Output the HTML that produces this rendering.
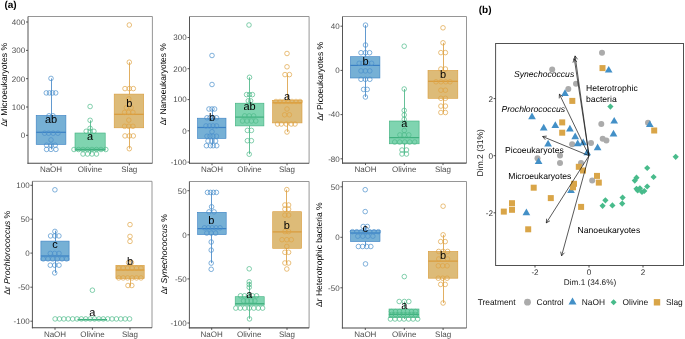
<!DOCTYPE html>
<html><head><meta charset="utf-8"><style>
html,body{margin:0;padding:0;background:#fff;width:685px;height:339px;overflow:hidden;}
svg{will-change:transform;}
svg text{font-family:"Liberation Sans", sans-serif;text-rendering:geometricPrecision;}
</style></head><body>
<svg width="685" height="339" viewBox="0 0 685 339" style="position:absolute;left:0;top:0;font-family:'Liberation Sans', sans-serif">
<rect width="685" height="339" fill="#fff"/>
<text x="4.4" y="7.8" font-size="10" text-anchor="start" fill="#000" font-weight="bold" font-style="normal" >(a)</text>
<text x="478.7" y="12.5" font-size="10" text-anchor="start" fill="#000" font-weight="bold" font-style="normal" >(b)</text>
<polyline points="28,16.5 152.4,16.5 152.4,163.3" fill="none" stroke="#8a8a8a" stroke-width="0.9"/>
<line x1="28" y1="16.5" x2="28" y2="163.8" stroke="#555" stroke-width="1.0"/>
<line x1="27.5" y1="163.3" x2="152.4" y2="163.3" stroke="#4a4a4a" stroke-width="1.1"/>
<line x1="26" y1="22" x2="28" y2="22" stroke="#444" stroke-width="0.9"/>
<text x="25.2" y="24.85" font-size="8" text-anchor="end" fill="#4d4d4d" font-weight="normal" font-style="normal" >400</text>
<line x1="26" y1="50.4" x2="28" y2="50.4" stroke="#444" stroke-width="0.9"/>
<text x="25.2" y="53.25" font-size="8" text-anchor="end" fill="#4d4d4d" font-weight="normal" font-style="normal" >300</text>
<line x1="26" y1="78.7" x2="28" y2="78.7" stroke="#444" stroke-width="0.9"/>
<text x="25.2" y="81.55" font-size="8" text-anchor="end" fill="#4d4d4d" font-weight="normal" font-style="normal" >200</text>
<line x1="26" y1="107" x2="28" y2="107" stroke="#444" stroke-width="0.9"/>
<text x="25.2" y="109.85" font-size="8" text-anchor="end" fill="#4d4d4d" font-weight="normal" font-style="normal" >100</text>
<line x1="26" y1="135.3" x2="28" y2="135.3" stroke="#444" stroke-width="0.9"/>
<text x="25.2" y="138.15" font-size="8" text-anchor="end" fill="#4d4d4d" font-weight="normal" font-style="normal" >0</text>
<line x1="51" y1="163.3" x2="51" y2="165.3" stroke="#444" stroke-width="0.9"/>
<text x="51" y="172.3" font-size="8" text-anchor="middle" fill="#4d4d4d" font-weight="normal" font-style="normal" >NaOH</text>
<line x1="90" y1="163.3" x2="90" y2="165.3" stroke="#444" stroke-width="0.9"/>
<text x="90" y="172.3" font-size="8" text-anchor="middle" fill="#4d4d4d" font-weight="normal" font-style="normal" >Olivine</text>
<line x1="129.3" y1="163.3" x2="129.3" y2="165.3" stroke="#444" stroke-width="0.9"/>
<text x="129.3" y="172.3" font-size="8" text-anchor="middle" fill="#4d4d4d" font-weight="normal" font-style="normal" >Slag</text>
<line x1="51.5" y1="78.4" x2="51.5" y2="149.4" stroke="#3a80c4" stroke-width="0.8"/>
<rect x="36.2" y="115.4" width="29.700000000000003" height="29.099999999999994" fill="#76b0d5" stroke="#3a80c4" stroke-width="0.6"/>
<line x1="36.2" y1="132.3" x2="65.9" y2="132.3" stroke="#3a80c4" stroke-width="1.2"/>
<circle cx="51" cy="78.4" r="2.3" fill="none" stroke="#4a8fcb" stroke-width="0.7"/>
<circle cx="46.3" cy="92.9" r="2.3" fill="none" stroke="#4a8fcb" stroke-width="0.7"/>
<circle cx="49.5" cy="92.9" r="2.3" fill="none" stroke="#4a8fcb" stroke-width="0.7"/>
<circle cx="52.5" cy="92.9" r="2.3" fill="none" stroke="#4a8fcb" stroke-width="0.7"/>
<circle cx="55.7" cy="92.9" r="2.3" fill="none" stroke="#4a8fcb" stroke-width="0.7"/>
<circle cx="49" cy="115.8" r="2.3" fill="none" stroke="#4a8fcb" stroke-width="0.7"/>
<circle cx="53" cy="115.8" r="2.3" fill="none" stroke="#4a8fcb" stroke-width="0.7"/>
<circle cx="44.6" cy="133.2" r="2.3" fill="none" stroke="#4a8fcb" stroke-width="0.7"/>
<circle cx="48.6" cy="133.2" r="2.3" fill="none" stroke="#4a8fcb" stroke-width="0.7"/>
<circle cx="53.2" cy="133.2" r="2.3" fill="none" stroke="#4a8fcb" stroke-width="0.7"/>
<circle cx="57.9" cy="133.2" r="2.3" fill="none" stroke="#4a8fcb" stroke-width="0.7"/>
<circle cx="51" cy="139.9" r="2.3" fill="none" stroke="#4a8fcb" stroke-width="0.7"/>
<circle cx="46.6" cy="145.2" r="2.3" fill="none" stroke="#4a8fcb" stroke-width="0.7"/>
<circle cx="51" cy="145.2" r="2.3" fill="none" stroke="#4a8fcb" stroke-width="0.7"/>
<circle cx="55.2" cy="145.2" r="2.3" fill="none" stroke="#4a8fcb" stroke-width="0.7"/>
<circle cx="46.6" cy="149.4" r="2.3" fill="none" stroke="#4a8fcb" stroke-width="0.7"/>
<circle cx="51" cy="149.4" r="2.3" fill="none" stroke="#4a8fcb" stroke-width="0.7"/>
<circle cx="55.9" cy="149.4" r="2.3" fill="none" stroke="#4a8fcb" stroke-width="0.7"/>
<text x="51" y="123.3" font-size="11" text-anchor="middle" fill="#000" font-weight="normal" font-style="normal" >ab</text>
<line x1="90.5" y1="120.3" x2="90.5" y2="154" stroke="#3fb07e" stroke-width="0.8"/>
<rect x="75" y="133" width="30.200000000000003" height="17.5" fill="#7fd4b0" stroke="#3fb07e" stroke-width="0.6"/>
<line x1="75" y1="149.4" x2="105.2" y2="149.4" stroke="#3fb07e" stroke-width="1.2"/>
<circle cx="90.1" cy="106.5" r="2.3" fill="none" stroke="#4dba8a" stroke-width="0.7"/>
<circle cx="90.1" cy="120.3" r="2.3" fill="none" stroke="#4dba8a" stroke-width="0.7"/>
<circle cx="90.1" cy="128.3" r="2.3" fill="none" stroke="#4dba8a" stroke-width="0.7"/>
<circle cx="86.2" cy="131.3" r="2.3" fill="none" stroke="#4dba8a" stroke-width="0.7"/>
<circle cx="90.1" cy="131.3" r="2.3" fill="none" stroke="#4dba8a" stroke-width="0.7"/>
<circle cx="93.9" cy="131.3" r="2.3" fill="none" stroke="#4dba8a" stroke-width="0.7"/>
<circle cx="74" cy="149.5" r="2.3" fill="none" stroke="#4dba8a" stroke-width="0.7"/>
<circle cx="78.5" cy="149.5" r="2.3" fill="none" stroke="#4dba8a" stroke-width="0.7"/>
<circle cx="83" cy="149.5" r="2.3" fill="none" stroke="#4dba8a" stroke-width="0.7"/>
<circle cx="87.5" cy="149.5" r="2.3" fill="none" stroke="#4dba8a" stroke-width="0.7"/>
<circle cx="92" cy="149.5" r="2.3" fill="none" stroke="#4dba8a" stroke-width="0.7"/>
<circle cx="96.5" cy="149.5" r="2.3" fill="none" stroke="#4dba8a" stroke-width="0.7"/>
<circle cx="101" cy="149.5" r="2.3" fill="none" stroke="#4dba8a" stroke-width="0.7"/>
<circle cx="105.8" cy="149.5" r="2.3" fill="none" stroke="#4dba8a" stroke-width="0.7"/>
<circle cx="83" cy="154" r="2.3" fill="none" stroke="#4dba8a" stroke-width="0.7"/>
<circle cx="87.5" cy="154" r="2.3" fill="none" stroke="#4dba8a" stroke-width="0.7"/>
<circle cx="92" cy="154" r="2.3" fill="none" stroke="#4dba8a" stroke-width="0.7"/>
<circle cx="96.5" cy="154" r="2.3" fill="none" stroke="#4dba8a" stroke-width="0.7"/>
<text x="90" y="139.7" font-size="11" text-anchor="middle" fill="#000" font-weight="normal" font-style="normal" >a</text>
<line x1="129.5" y1="62.2" x2="129.5" y2="148.7" stroke="#d99b3a" stroke-width="0.8"/>
<rect x="114.2" y="94.1" width="29.499999999999986" height="33.7" fill="#ddbb78" stroke="#d99b3a" stroke-width="0.6"/>
<line x1="114.2" y1="114.3" x2="143.7" y2="114.3" stroke="#d99b3a" stroke-width="1.2"/>
<circle cx="129.3" cy="25" r="2.3" fill="none" stroke="#e0a444" stroke-width="0.7"/>
<circle cx="129.3" cy="62.2" r="2.3" fill="none" stroke="#e0a444" stroke-width="0.7"/>
<circle cx="125" cy="88.6" r="2.3" fill="none" stroke="#e0a444" stroke-width="0.7"/>
<circle cx="129.3" cy="88.6" r="2.3" fill="none" stroke="#e0a444" stroke-width="0.7"/>
<circle cx="133.3" cy="88.6" r="2.3" fill="none" stroke="#e0a444" stroke-width="0.7"/>
<circle cx="128.8" cy="98.9" r="2.3" fill="none" stroke="#e0a444" stroke-width="0.7"/>
<circle cx="126.4" cy="107.7" r="2.3" fill="none" stroke="#e0a444" stroke-width="0.7"/>
<circle cx="131.1" cy="107.7" r="2.3" fill="none" stroke="#e0a444" stroke-width="0.7"/>
<circle cx="124.6" cy="112.4" r="2.3" fill="none" stroke="#e0a444" stroke-width="0.7"/>
<circle cx="128.5" cy="112.4" r="2.3" fill="none" stroke="#e0a444" stroke-width="0.7"/>
<circle cx="132.9" cy="112.4" r="2.3" fill="none" stroke="#e0a444" stroke-width="0.7"/>
<circle cx="128.8" cy="120.1" r="2.3" fill="none" stroke="#e0a444" stroke-width="0.7"/>
<circle cx="124.6" cy="126.3" r="2.3" fill="none" stroke="#e0a444" stroke-width="0.7"/>
<circle cx="128.8" cy="126.3" r="2.3" fill="none" stroke="#e0a444" stroke-width="0.7"/>
<circle cx="132.9" cy="126.3" r="2.3" fill="none" stroke="#e0a444" stroke-width="0.7"/>
<circle cx="125" cy="135.9" r="2.3" fill="none" stroke="#e0a444" stroke-width="0.7"/>
<circle cx="129.3" cy="135.9" r="2.3" fill="none" stroke="#e0a444" stroke-width="0.7"/>
<circle cx="133.3" cy="135.9" r="2.3" fill="none" stroke="#e0a444" stroke-width="0.7"/>
<circle cx="129.3" cy="148.7" r="2.3" fill="none" stroke="#e0a444" stroke-width="0.7"/>
<text x="129.3" y="107.0" font-size="11" text-anchor="middle" fill="#000" font-weight="normal" font-style="normal" >b</text>
<text transform="translate(7.2,126.6) rotate(-90)" x="0" y="0" font-size="8.5" fill="#000" textLength="83.6" lengthAdjust="spacingAndGlyphs">Δr Microeukaryotes %</text>
<polyline points="189.5,16.5 309.1,16.5 309.1,163.3" fill="none" stroke="#8a8a8a" stroke-width="0.9"/>
<line x1="189.5" y1="16.5" x2="189.5" y2="163.8" stroke="#555" stroke-width="1.0"/>
<line x1="189.0" y1="163.3" x2="309.1" y2="163.3" stroke="#4a4a4a" stroke-width="1.1"/>
<line x1="187.5" y1="37.5" x2="189.5" y2="37.5" stroke="#444" stroke-width="0.9"/>
<text x="186.7" y="40.35" font-size="8" text-anchor="end" fill="#4d4d4d" font-weight="normal" font-style="normal" >300</text>
<line x1="187.5" y1="68.7" x2="189.5" y2="68.7" stroke="#444" stroke-width="0.9"/>
<text x="186.7" y="71.55" font-size="8" text-anchor="end" fill="#4d4d4d" font-weight="normal" font-style="normal" >200</text>
<line x1="187.5" y1="99.6" x2="189.5" y2="99.6" stroke="#444" stroke-width="0.9"/>
<text x="186.7" y="102.44999999999999" font-size="8" text-anchor="end" fill="#4d4d4d" font-weight="normal" font-style="normal" >100</text>
<line x1="187.5" y1="130.8" x2="189.5" y2="130.8" stroke="#444" stroke-width="0.9"/>
<text x="186.7" y="133.65" font-size="8" text-anchor="end" fill="#4d4d4d" font-weight="normal" font-style="normal" >0</text>
<line x1="187.5" y1="162.1" x2="189.5" y2="162.1" stroke="#444" stroke-width="0.9"/>
<text x="186.7" y="164.95" font-size="8" text-anchor="end" fill="#4d4d4d" font-weight="normal" font-style="normal" >-100</text>
<line x1="212" y1="163.3" x2="212" y2="165.3" stroke="#444" stroke-width="0.9"/>
<text x="212" y="172.3" font-size="8" text-anchor="middle" fill="#4d4d4d" font-weight="normal" font-style="normal" >NaOH</text>
<line x1="249.5" y1="163.3" x2="249.5" y2="165.3" stroke="#444" stroke-width="0.9"/>
<text x="249.5" y="172.3" font-size="8" text-anchor="middle" fill="#4d4d4d" font-weight="normal" font-style="normal" >Olivine</text>
<line x1="287" y1="163.3" x2="287" y2="165.3" stroke="#444" stroke-width="0.9"/>
<text x="287" y="172.3" font-size="8" text-anchor="middle" fill="#4d4d4d" font-weight="normal" font-style="normal" >Slag</text>
<line x1="212.5" y1="109" x2="212.5" y2="145.7" stroke="#3a80c4" stroke-width="0.8"/>
<rect x="197.5" y="118.2" width="28.5" height="20.299999999999997" fill="#76b0d5" stroke="#3a80c4" stroke-width="0.6"/>
<line x1="197.5" y1="127.5" x2="226" y2="127.5" stroke="#3a80c4" stroke-width="1.2"/>
<circle cx="212" cy="55.5" r="2.3" fill="none" stroke="#4a8fcb" stroke-width="0.7"/>
<circle cx="212" cy="84.5" r="2.3" fill="none" stroke="#4a8fcb" stroke-width="0.7"/>
<circle cx="209" cy="109" r="2.3" fill="none" stroke="#4a8fcb" stroke-width="0.7"/>
<circle cx="212" cy="109" r="2.3" fill="none" stroke="#4a8fcb" stroke-width="0.7"/>
<circle cx="214.6" cy="109" r="2.3" fill="none" stroke="#4a8fcb" stroke-width="0.7"/>
<circle cx="207" cy="117.8" r="2.3" fill="none" stroke="#4a8fcb" stroke-width="0.7"/>
<circle cx="210" cy="117.8" r="2.3" fill="none" stroke="#4a8fcb" stroke-width="0.7"/>
<circle cx="213" cy="117.8" r="2.3" fill="none" stroke="#4a8fcb" stroke-width="0.7"/>
<circle cx="216.5" cy="117.8" r="2.3" fill="none" stroke="#4a8fcb" stroke-width="0.7"/>
<circle cx="206" cy="125.9" r="2.3" fill="none" stroke="#4a8fcb" stroke-width="0.7"/>
<circle cx="209.5" cy="125.9" r="2.3" fill="none" stroke="#4a8fcb" stroke-width="0.7"/>
<circle cx="213" cy="125.9" r="2.3" fill="none" stroke="#4a8fcb" stroke-width="0.7"/>
<circle cx="216.5" cy="125.9" r="2.3" fill="none" stroke="#4a8fcb" stroke-width="0.7"/>
<circle cx="212" cy="131.7" r="2.3" fill="none" stroke="#4a8fcb" stroke-width="0.7"/>
<circle cx="207" cy="136.2" r="2.3" fill="none" stroke="#4a8fcb" stroke-width="0.7"/>
<circle cx="210" cy="136.2" r="2.3" fill="none" stroke="#4a8fcb" stroke-width="0.7"/>
<circle cx="213" cy="136.2" r="2.3" fill="none" stroke="#4a8fcb" stroke-width="0.7"/>
<circle cx="216.5" cy="136.2" r="2.3" fill="none" stroke="#4a8fcb" stroke-width="0.7"/>
<circle cx="208" cy="141" r="2.3" fill="none" stroke="#4a8fcb" stroke-width="0.7"/>
<circle cx="212" cy="141" r="2.3" fill="none" stroke="#4a8fcb" stroke-width="0.7"/>
<circle cx="215.6" cy="141" r="2.3" fill="none" stroke="#4a8fcb" stroke-width="0.7"/>
<circle cx="206.4" cy="145.7" r="2.3" fill="none" stroke="#4a8fcb" stroke-width="0.7"/>
<circle cx="210.5" cy="145.7" r="2.3" fill="none" stroke="#4a8fcb" stroke-width="0.7"/>
<circle cx="213.2" cy="145.7" r="2.3" fill="none" stroke="#4a8fcb" stroke-width="0.7"/>
<circle cx="216.7" cy="145.7" r="2.3" fill="none" stroke="#4a8fcb" stroke-width="0.7"/>
<text x="212" y="121.3" font-size="11" text-anchor="middle" fill="#000" font-weight="normal" font-style="normal" >b</text>
<line x1="249.5" y1="77.3" x2="249.5" y2="154.2" stroke="#3fb07e" stroke-width="0.8"/>
<rect x="235.3" y="103.2" width="28.599999999999966" height="22.700000000000003" fill="#7fd4b0" stroke="#3fb07e" stroke-width="0.6"/>
<line x1="235.3" y1="117.1" x2="263.9" y2="117.1" stroke="#3fb07e" stroke-width="1.2"/>
<circle cx="249" cy="25" r="2.3" fill="none" stroke="#4dba8a" stroke-width="0.7"/>
<circle cx="249.5" cy="77.3" r="2.3" fill="none" stroke="#4dba8a" stroke-width="0.7"/>
<circle cx="246.6" cy="94.6" r="2.3" fill="none" stroke="#4dba8a" stroke-width="0.7"/>
<circle cx="249.5" cy="94.6" r="2.3" fill="none" stroke="#4dba8a" stroke-width="0.7"/>
<circle cx="252.4" cy="94.6" r="2.3" fill="none" stroke="#4dba8a" stroke-width="0.7"/>
<circle cx="248.3" cy="100.8" r="2.3" fill="none" stroke="#4dba8a" stroke-width="0.7"/>
<circle cx="250.6" cy="100.8" r="2.3" fill="none" stroke="#4dba8a" stroke-width="0.7"/>
<circle cx="244.7" cy="115.9" r="2.3" fill="none" stroke="#4dba8a" stroke-width="0.7"/>
<circle cx="249.2" cy="115.9" r="2.3" fill="none" stroke="#4dba8a" stroke-width="0.7"/>
<circle cx="253.6" cy="115.9" r="2.3" fill="none" stroke="#4dba8a" stroke-width="0.7"/>
<circle cx="242.5" cy="121" r="2.3" fill="none" stroke="#4dba8a" stroke-width="0.7"/>
<circle cx="247" cy="121" r="2.3" fill="none" stroke="#4dba8a" stroke-width="0.7"/>
<circle cx="251.4" cy="121" r="2.3" fill="none" stroke="#4dba8a" stroke-width="0.7"/>
<circle cx="255.8" cy="121" r="2.3" fill="none" stroke="#4dba8a" stroke-width="0.7"/>
<circle cx="247.4" cy="130.4" r="2.3" fill="none" stroke="#4dba8a" stroke-width="0.7"/>
<circle cx="251.4" cy="130.4" r="2.3" fill="none" stroke="#4dba8a" stroke-width="0.7"/>
<circle cx="247.4" cy="140.7" r="2.3" fill="none" stroke="#4dba8a" stroke-width="0.7"/>
<circle cx="251.4" cy="140.7" r="2.3" fill="none" stroke="#4dba8a" stroke-width="0.7"/>
<circle cx="249.2" cy="154.2" r="2.3" fill="none" stroke="#4dba8a" stroke-width="0.7"/>
<text x="249.5" y="109.8" font-size="11" text-anchor="middle" fill="#000" font-weight="normal" font-style="normal" >ab</text>
<line x1="287.5" y1="74.6" x2="287.5" y2="132" stroke="#d99b3a" stroke-width="0.8"/>
<rect x="272.6" y="100.3" width="29.399999999999977" height="22.60000000000001" fill="#ddbb78" stroke="#d99b3a" stroke-width="0.6"/>
<line x1="272.6" y1="102.8" x2="302" y2="102.8" stroke="#d99b3a" stroke-width="1.2"/>
<circle cx="287" cy="53.5" r="2.3" fill="none" stroke="#e0a444" stroke-width="0.7"/>
<circle cx="287" cy="66.8" r="2.3" fill="none" stroke="#e0a444" stroke-width="0.7"/>
<circle cx="285" cy="74.6" r="2.3" fill="none" stroke="#e0a444" stroke-width="0.7"/>
<circle cx="289.4" cy="74.6" r="2.3" fill="none" stroke="#e0a444" stroke-width="0.7"/>
<circle cx="276" cy="101.5" r="2.3" fill="none" stroke="#e0a444" stroke-width="0.7"/>
<circle cx="280" cy="101.5" r="2.3" fill="none" stroke="#e0a444" stroke-width="0.7"/>
<circle cx="284" cy="101.5" r="2.3" fill="none" stroke="#e0a444" stroke-width="0.7"/>
<circle cx="288" cy="101.5" r="2.3" fill="none" stroke="#e0a444" stroke-width="0.7"/>
<circle cx="292" cy="101.5" r="2.3" fill="none" stroke="#e0a444" stroke-width="0.7"/>
<circle cx="296" cy="101.5" r="2.3" fill="none" stroke="#e0a444" stroke-width="0.7"/>
<circle cx="300" cy="101.5" r="2.3" fill="none" stroke="#e0a444" stroke-width="0.7"/>
<circle cx="287" cy="109" r="2.3" fill="none" stroke="#e0a444" stroke-width="0.7"/>
<circle cx="284.6" cy="114.8" r="2.3" fill="none" stroke="#e0a444" stroke-width="0.7"/>
<circle cx="289.4" cy="114.8" r="2.3" fill="none" stroke="#e0a444" stroke-width="0.7"/>
<circle cx="277.5" cy="124" r="2.3" fill="none" stroke="#e0a444" stroke-width="0.7"/>
<circle cx="281.3" cy="124" r="2.3" fill="none" stroke="#e0a444" stroke-width="0.7"/>
<circle cx="286.3" cy="124" r="2.3" fill="none" stroke="#e0a444" stroke-width="0.7"/>
<circle cx="291.3" cy="124" r="2.3" fill="none" stroke="#e0a444" stroke-width="0.7"/>
<circle cx="295" cy="124" r="2.3" fill="none" stroke="#e0a444" stroke-width="0.7"/>
<circle cx="287" cy="132" r="2.3" fill="none" stroke="#e0a444" stroke-width="0.7"/>
<text x="287" y="99.6" font-size="11" text-anchor="middle" fill="#000" font-weight="normal" font-style="normal" >a</text>
<text transform="translate(166,125.3) rotate(-90)" x="0" y="0" font-size="8.5" fill="#000" textLength="82.19999999999999" lengthAdjust="spacingAndGlyphs">Δr Nanoeukaryotes %</text>
<polyline points="342.5,16.5 466.5,16.5 466.5,163.1" fill="none" stroke="#8a8a8a" stroke-width="0.9"/>
<line x1="342.5" y1="16.5" x2="342.5" y2="163.6" stroke="#555" stroke-width="1.0"/>
<line x1="342.0" y1="163.1" x2="466.5" y2="163.1" stroke="#4a4a4a" stroke-width="1.1"/>
<line x1="340.5" y1="26.2" x2="342.5" y2="26.2" stroke="#444" stroke-width="0.9"/>
<text x="339.7" y="29.05" font-size="8" text-anchor="end" fill="#4d4d4d" font-weight="normal" font-style="normal" >40</text>
<line x1="340.5" y1="70.4" x2="342.5" y2="70.4" stroke="#444" stroke-width="0.9"/>
<text x="339.7" y="73.25" font-size="8" text-anchor="end" fill="#4d4d4d" font-weight="normal" font-style="normal" >0</text>
<line x1="340.5" y1="114.6" x2="342.5" y2="114.6" stroke="#444" stroke-width="0.9"/>
<text x="339.7" y="117.44999999999999" font-size="8" text-anchor="end" fill="#4d4d4d" font-weight="normal" font-style="normal" >-40</text>
<line x1="340.5" y1="158.8" x2="342.5" y2="158.8" stroke="#444" stroke-width="0.9"/>
<text x="339.7" y="161.65" font-size="8" text-anchor="end" fill="#4d4d4d" font-weight="normal" font-style="normal" >-80</text>
<line x1="365.5" y1="163.1" x2="365.5" y2="165.1" stroke="#444" stroke-width="0.9"/>
<text x="365.5" y="172.1" font-size="8" text-anchor="middle" fill="#4d4d4d" font-weight="normal" font-style="normal" >NaOH</text>
<line x1="404.3" y1="163.1" x2="404.3" y2="165.1" stroke="#444" stroke-width="0.9"/>
<text x="404.3" y="172.1" font-size="8" text-anchor="middle" fill="#4d4d4d" font-weight="normal" font-style="normal" >Olivine</text>
<line x1="443" y1="163.1" x2="443" y2="165.1" stroke="#444" stroke-width="0.9"/>
<text x="443" y="172.1" font-size="8" text-anchor="middle" fill="#4d4d4d" font-weight="normal" font-style="normal" >Slag</text>
<line x1="365.5" y1="25.1" x2="365.5" y2="97" stroke="#3a80c4" stroke-width="0.8"/>
<rect x="350.4" y="56.7" width="29.5" height="21.299999999999997" fill="#76b0d5" stroke="#3a80c4" stroke-width="0.6"/>
<line x1="350.4" y1="65.4" x2="379.9" y2="65.4" stroke="#3a80c4" stroke-width="1.2"/>
<circle cx="365.5" cy="25.1" r="2.3" fill="none" stroke="#4a8fcb" stroke-width="0.7"/>
<circle cx="365.5" cy="45" r="2.3" fill="none" stroke="#4a8fcb" stroke-width="0.7"/>
<circle cx="361" cy="52.7" r="2.3" fill="none" stroke="#4a8fcb" stroke-width="0.7"/>
<circle cx="365.5" cy="52.7" r="2.3" fill="none" stroke="#4a8fcb" stroke-width="0.7"/>
<circle cx="369.6" cy="52.7" r="2.3" fill="none" stroke="#4a8fcb" stroke-width="0.7"/>
<circle cx="359.2" cy="63.3" r="2.3" fill="none" stroke="#4a8fcb" stroke-width="0.7"/>
<circle cx="363" cy="63.3" r="2.3" fill="none" stroke="#4a8fcb" stroke-width="0.7"/>
<circle cx="367.5" cy="63.3" r="2.3" fill="none" stroke="#4a8fcb" stroke-width="0.7"/>
<circle cx="371.6" cy="63.3" r="2.3" fill="none" stroke="#4a8fcb" stroke-width="0.7"/>
<circle cx="361" cy="70.9" r="2.3" fill="none" stroke="#4a8fcb" stroke-width="0.7"/>
<circle cx="365.4" cy="70.9" r="2.3" fill="none" stroke="#4a8fcb" stroke-width="0.7"/>
<circle cx="369.8" cy="70.9" r="2.3" fill="none" stroke="#4a8fcb" stroke-width="0.7"/>
<circle cx="361" cy="79.3" r="2.3" fill="none" stroke="#4a8fcb" stroke-width="0.7"/>
<circle cx="365.4" cy="79.3" r="2.3" fill="none" stroke="#4a8fcb" stroke-width="0.7"/>
<circle cx="369.8" cy="79.3" r="2.3" fill="none" stroke="#4a8fcb" stroke-width="0.7"/>
<circle cx="363.6" cy="89.4" r="2.3" fill="none" stroke="#4a8fcb" stroke-width="0.7"/>
<circle cx="367.2" cy="89.4" r="2.3" fill="none" stroke="#4a8fcb" stroke-width="0.7"/>
<circle cx="365.4" cy="97" r="2.3" fill="none" stroke="#4a8fcb" stroke-width="0.7"/>
<text x="365.5" y="64.6" font-size="11" text-anchor="middle" fill="#000" font-weight="normal" font-style="normal" >b</text>
<line x1="404.5" y1="89" x2="404.5" y2="154" stroke="#3fb07e" stroke-width="0.8"/>
<rect x="389.3" y="121" width="29.80000000000001" height="22.80000000000001" fill="#7fd4b0" stroke="#3fb07e" stroke-width="0.6"/>
<line x1="389.3" y1="137.6" x2="419.1" y2="137.6" stroke="#3fb07e" stroke-width="1.2"/>
<circle cx="404.2" cy="46.2" r="2.3" fill="none" stroke="#4dba8a" stroke-width="0.7"/>
<circle cx="404.2" cy="89" r="2.3" fill="none" stroke="#4dba8a" stroke-width="0.7"/>
<circle cx="404.2" cy="110.4" r="2.3" fill="none" stroke="#4dba8a" stroke-width="0.7"/>
<circle cx="404.2" cy="114.9" r="2.3" fill="none" stroke="#4dba8a" stroke-width="0.7"/>
<circle cx="404.2" cy="119.3" r="2.3" fill="none" stroke="#4dba8a" stroke-width="0.7"/>
<circle cx="404.3" cy="130.5" r="2.3" fill="none" stroke="#4dba8a" stroke-width="0.7"/>
<circle cx="399.9" cy="134.9" r="2.3" fill="none" stroke="#4dba8a" stroke-width="0.7"/>
<circle cx="404.3" cy="134.9" r="2.3" fill="none" stroke="#4dba8a" stroke-width="0.7"/>
<circle cx="408.8" cy="134.9" r="2.3" fill="none" stroke="#4dba8a" stroke-width="0.7"/>
<circle cx="394.7" cy="142" r="2.3" fill="none" stroke="#4dba8a" stroke-width="0.7"/>
<circle cx="399.7" cy="142" r="2.3" fill="none" stroke="#4dba8a" stroke-width="0.7"/>
<circle cx="404.7" cy="142" r="2.3" fill="none" stroke="#4dba8a" stroke-width="0.7"/>
<circle cx="409.7" cy="142" r="2.3" fill="none" stroke="#4dba8a" stroke-width="0.7"/>
<circle cx="414.7" cy="142" r="2.3" fill="none" stroke="#4dba8a" stroke-width="0.7"/>
<circle cx="402" cy="150" r="2.3" fill="none" stroke="#4dba8a" stroke-width="0.7"/>
<circle cx="406.5" cy="150" r="2.3" fill="none" stroke="#4dba8a" stroke-width="0.7"/>
<circle cx="402" cy="154" r="2.3" fill="none" stroke="#4dba8a" stroke-width="0.7"/>
<circle cx="406.5" cy="154" r="2.3" fill="none" stroke="#4dba8a" stroke-width="0.7"/>
<text x="404.3" y="126.8" font-size="11" text-anchor="middle" fill="#000" font-weight="normal" font-style="normal" >a</text>
<line x1="443.5" y1="42.8" x2="443.5" y2="112.5" stroke="#d99b3a" stroke-width="0.8"/>
<rect x="428" y="70.4" width="29.80000000000001" height="27.89999999999999" fill="#ddbb78" stroke="#d99b3a" stroke-width="0.6"/>
<line x1="428" y1="81.3" x2="457.8" y2="81.3" stroke="#d99b3a" stroke-width="1.2"/>
<circle cx="443" cy="27.8" r="2.3" fill="none" stroke="#e0a444" stroke-width="0.7"/>
<circle cx="443" cy="42.8" r="2.3" fill="none" stroke="#e0a444" stroke-width="0.7"/>
<circle cx="440.9" cy="52.6" r="2.3" fill="none" stroke="#e0a444" stroke-width="0.7"/>
<circle cx="445.4" cy="52.6" r="2.3" fill="none" stroke="#e0a444" stroke-width="0.7"/>
<circle cx="440.9" cy="69" r="2.3" fill="none" stroke="#e0a444" stroke-width="0.7"/>
<circle cx="445.4" cy="69" r="2.3" fill="none" stroke="#e0a444" stroke-width="0.7"/>
<circle cx="436" cy="81.8" r="2.3" fill="none" stroke="#e0a444" stroke-width="0.7"/>
<circle cx="441" cy="81.8" r="2.3" fill="none" stroke="#e0a444" stroke-width="0.7"/>
<circle cx="445.7" cy="81.8" r="2.3" fill="none" stroke="#e0a444" stroke-width="0.7"/>
<circle cx="450" cy="81.8" r="2.3" fill="none" stroke="#e0a444" stroke-width="0.7"/>
<circle cx="440.9" cy="90.2" r="2.3" fill="none" stroke="#e0a444" stroke-width="0.7"/>
<circle cx="445.4" cy="90.2" r="2.3" fill="none" stroke="#e0a444" stroke-width="0.7"/>
<circle cx="440.9" cy="98.3" r="2.3" fill="none" stroke="#e0a444" stroke-width="0.7"/>
<circle cx="445.4" cy="98.3" r="2.3" fill="none" stroke="#e0a444" stroke-width="0.7"/>
<circle cx="440.9" cy="106.1" r="2.3" fill="none" stroke="#e0a444" stroke-width="0.7"/>
<circle cx="445.4" cy="106.1" r="2.3" fill="none" stroke="#e0a444" stroke-width="0.7"/>
<circle cx="440.9" cy="112.5" r="2.3" fill="none" stroke="#e0a444" stroke-width="0.7"/>
<circle cx="445.4" cy="112.5" r="2.3" fill="none" stroke="#e0a444" stroke-width="0.7"/>
<text x="443" y="78.3" font-size="11" text-anchor="middle" fill="#000" font-weight="normal" font-style="normal" >b</text>
<text transform="translate(323,120.8) rotate(-90)" x="0" y="0" font-size="8.5" fill="#000" textLength="78.9" lengthAdjust="spacingAndGlyphs">Δ<tspan font-style="italic">r</tspan> Picoeukaryotes %</text>
<polyline points="32.4,181.3 152,181.3 152,327.8" fill="none" stroke="#8a8a8a" stroke-width="0.9"/>
<line x1="32.4" y1="181.3" x2="32.4" y2="328.3" stroke="#555" stroke-width="1.0"/>
<line x1="31.9" y1="327.8" x2="152" y2="327.8" stroke="#4a4a4a" stroke-width="1.1"/>
<line x1="30.4" y1="185.3" x2="32.4" y2="185.3" stroke="#444" stroke-width="0.9"/>
<text x="29.599999999999998" y="188.15" font-size="8" text-anchor="end" fill="#4d4d4d" font-weight="normal" font-style="normal" >100</text>
<line x1="30.4" y1="219.2" x2="32.4" y2="219.2" stroke="#444" stroke-width="0.9"/>
<text x="29.599999999999998" y="222.04999999999998" font-size="8" text-anchor="end" fill="#4d4d4d" font-weight="normal" font-style="normal" >50</text>
<line x1="30.4" y1="253.1" x2="32.4" y2="253.1" stroke="#444" stroke-width="0.9"/>
<text x="29.599999999999998" y="255.95" font-size="8" text-anchor="end" fill="#4d4d4d" font-weight="normal" font-style="normal" >0</text>
<line x1="30.4" y1="287.2" x2="32.4" y2="287.2" stroke="#444" stroke-width="0.9"/>
<text x="29.599999999999998" y="290.05" font-size="8" text-anchor="end" fill="#4d4d4d" font-weight="normal" font-style="normal" >-50</text>
<line x1="30.4" y1="321.2" x2="32.4" y2="321.2" stroke="#444" stroke-width="0.9"/>
<text x="29.599999999999998" y="324.05" font-size="8" text-anchor="end" fill="#4d4d4d" font-weight="normal" font-style="normal" >-100</text>
<line x1="55" y1="327.8" x2="55" y2="329.8" stroke="#444" stroke-width="0.9"/>
<text x="55" y="336.8" font-size="8" text-anchor="middle" fill="#4d4d4d" font-weight="normal" font-style="normal" >NaOH</text>
<line x1="92.4" y1="327.8" x2="92.4" y2="329.8" stroke="#444" stroke-width="0.9"/>
<text x="92.4" y="336.8" font-size="8" text-anchor="middle" fill="#4d4d4d" font-weight="normal" font-style="normal" >Olivine</text>
<line x1="130" y1="327.8" x2="130" y2="329.8" stroke="#444" stroke-width="0.9"/>
<text x="130" y="336.8" font-size="8" text-anchor="middle" fill="#4d4d4d" font-weight="normal" font-style="normal" >Slag</text>
<line x1="55.5" y1="230.7" x2="55.5" y2="272.9" stroke="#3a80c4" stroke-width="0.8"/>
<rect x="40.9" y="241.1" width="28.199999999999996" height="19.299999999999983" fill="#76b0d5" stroke="#3a80c4" stroke-width="0.6"/>
<line x1="40.9" y1="256" x2="69.1" y2="256" stroke="#3a80c4" stroke-width="1.2"/>
<circle cx="54.9" cy="189.8" r="2.3" fill="none" stroke="#4a8fcb" stroke-width="0.7"/>
<circle cx="54.9" cy="231.4" r="2.3" fill="none" stroke="#4a8fcb" stroke-width="0.7"/>
<circle cx="50.6" cy="235.9" r="2.3" fill="none" stroke="#4a8fcb" stroke-width="0.7"/>
<circle cx="54.9" cy="235.9" r="2.3" fill="none" stroke="#4a8fcb" stroke-width="0.7"/>
<circle cx="58.9" cy="235.9" r="2.3" fill="none" stroke="#4a8fcb" stroke-width="0.7"/>
<circle cx="50.3" cy="253.4" r="2.3" fill="none" stroke="#4a8fcb" stroke-width="0.7"/>
<circle cx="54.7" cy="253.4" r="2.3" fill="none" stroke="#4a8fcb" stroke-width="0.7"/>
<circle cx="59" cy="253.4" r="2.3" fill="none" stroke="#4a8fcb" stroke-width="0.7"/>
<circle cx="43.3" cy="258.9" r="2.3" fill="none" stroke="#4a8fcb" stroke-width="0.7"/>
<circle cx="48" cy="258.9" r="2.3" fill="none" stroke="#4a8fcb" stroke-width="0.7"/>
<circle cx="52.7" cy="258.9" r="2.3" fill="none" stroke="#4a8fcb" stroke-width="0.7"/>
<circle cx="57.3" cy="258.9" r="2.3" fill="none" stroke="#4a8fcb" stroke-width="0.7"/>
<circle cx="62" cy="258.9" r="2.3" fill="none" stroke="#4a8fcb" stroke-width="0.7"/>
<circle cx="66.6" cy="258.9" r="2.3" fill="none" stroke="#4a8fcb" stroke-width="0.7"/>
<circle cx="50.3" cy="265.2" r="2.3" fill="none" stroke="#4a8fcb" stroke-width="0.7"/>
<circle cx="54.7" cy="265.2" r="2.3" fill="none" stroke="#4a8fcb" stroke-width="0.7"/>
<circle cx="59" cy="265.2" r="2.3" fill="none" stroke="#4a8fcb" stroke-width="0.7"/>
<circle cx="54.7" cy="272.9" r="2.3" fill="none" stroke="#4a8fcb" stroke-width="0.7"/>
<text x="55" y="247.6" font-size="11" text-anchor="middle" fill="#000" font-weight="normal" font-style="normal" >c</text>
<rect x="77.9" y="319.2" width="28.89999999999999" height="0.8000000000000114" fill="#7fd4b0" stroke="#3fb07e" stroke-width="0.6"/>
<line x1="77.9" y1="319.6" x2="106.8" y2="319.6" stroke="#3fb07e" stroke-width="1.2"/>
<circle cx="92.4" cy="290.2" r="2.3" fill="none" stroke="#4dba8a" stroke-width="0.7"/>
<circle cx="55.1" cy="318.9" r="2.3" fill="none" stroke="#4dba8a" stroke-width="0.7"/>
<circle cx="59.480000000000004" cy="318.9" r="2.3" fill="none" stroke="#4dba8a" stroke-width="0.7"/>
<circle cx="63.86" cy="318.9" r="2.3" fill="none" stroke="#4dba8a" stroke-width="0.7"/>
<circle cx="68.24000000000001" cy="318.9" r="2.3" fill="none" stroke="#4dba8a" stroke-width="0.7"/>
<circle cx="72.62" cy="318.9" r="2.3" fill="none" stroke="#4dba8a" stroke-width="0.7"/>
<circle cx="77.0" cy="318.9" r="2.3" fill="none" stroke="#4dba8a" stroke-width="0.7"/>
<circle cx="81.38" cy="318.9" r="2.3" fill="none" stroke="#4dba8a" stroke-width="0.7"/>
<circle cx="85.76" cy="318.9" r="2.3" fill="none" stroke="#4dba8a" stroke-width="0.7"/>
<circle cx="90.14" cy="318.9" r="2.3" fill="none" stroke="#4dba8a" stroke-width="0.7"/>
<circle cx="94.52000000000001" cy="318.9" r="2.3" fill="none" stroke="#4dba8a" stroke-width="0.7"/>
<circle cx="98.9" cy="318.9" r="2.3" fill="none" stroke="#4dba8a" stroke-width="0.7"/>
<circle cx="103.28" cy="318.9" r="2.3" fill="none" stroke="#4dba8a" stroke-width="0.7"/>
<circle cx="107.66" cy="318.9" r="2.3" fill="none" stroke="#4dba8a" stroke-width="0.7"/>
<circle cx="112.03999999999999" cy="318.9" r="2.3" fill="none" stroke="#4dba8a" stroke-width="0.7"/>
<circle cx="116.42" cy="318.9" r="2.3" fill="none" stroke="#4dba8a" stroke-width="0.7"/>
<circle cx="120.80000000000001" cy="318.9" r="2.3" fill="none" stroke="#4dba8a" stroke-width="0.7"/>
<circle cx="125.18" cy="318.9" r="2.3" fill="none" stroke="#4dba8a" stroke-width="0.7"/>
<circle cx="129.56" cy="318.9" r="2.3" fill="none" stroke="#4dba8a" stroke-width="0.7"/>
<text x="92.4" y="315.9" font-size="11" text-anchor="middle" fill="#000" font-weight="normal" font-style="normal" >a</text>
<line x1="130.5" y1="265.3" x2="130.5" y2="285.8" stroke="#d99b3a" stroke-width="0.8"/>
<rect x="115.9" y="265.3" width="28.299999999999983" height="13.300000000000011" fill="#ddbb78" stroke="#d99b3a" stroke-width="0.6"/>
<line x1="115.9" y1="270" x2="144.2" y2="270" stroke="#d99b3a" stroke-width="1.2"/>
<circle cx="130" cy="224.6" r="2.3" fill="none" stroke="#e0a444" stroke-width="0.7"/>
<circle cx="130" cy="236.4" r="2.3" fill="none" stroke="#e0a444" stroke-width="0.7"/>
<circle cx="130" cy="241.4" r="2.3" fill="none" stroke="#e0a444" stroke-width="0.7"/>
<circle cx="128.6" cy="262.6" r="2.3" fill="none" stroke="#e0a444" stroke-width="0.7"/>
<circle cx="131.4" cy="262.6" r="2.3" fill="none" stroke="#e0a444" stroke-width="0.7"/>
<circle cx="118.7" cy="268.2" r="2.3" fill="none" stroke="#e0a444" stroke-width="0.7"/>
<circle cx="123.2" cy="268.2" r="2.3" fill="none" stroke="#e0a444" stroke-width="0.7"/>
<circle cx="127.6" cy="268.2" r="2.3" fill="none" stroke="#e0a444" stroke-width="0.7"/>
<circle cx="132.1" cy="268.2" r="2.3" fill="none" stroke="#e0a444" stroke-width="0.7"/>
<circle cx="136.5" cy="268.2" r="2.3" fill="none" stroke="#e0a444" stroke-width="0.7"/>
<circle cx="141" cy="268.2" r="2.3" fill="none" stroke="#e0a444" stroke-width="0.7"/>
<circle cx="118.7" cy="277.9" r="2.3" fill="none" stroke="#e0a444" stroke-width="0.7"/>
<circle cx="123.2" cy="277.9" r="2.3" fill="none" stroke="#e0a444" stroke-width="0.7"/>
<circle cx="127.6" cy="277.9" r="2.3" fill="none" stroke="#e0a444" stroke-width="0.7"/>
<circle cx="132.1" cy="277.9" r="2.3" fill="none" stroke="#e0a444" stroke-width="0.7"/>
<circle cx="136.5" cy="277.9" r="2.3" fill="none" stroke="#e0a444" stroke-width="0.7"/>
<circle cx="141" cy="277.9" r="2.3" fill="none" stroke="#e0a444" stroke-width="0.7"/>
<circle cx="128" cy="285.5" r="2.3" fill="none" stroke="#e0a444" stroke-width="0.7"/>
<circle cx="131.8" cy="285.5" r="2.3" fill="none" stroke="#e0a444" stroke-width="0.7"/>
<text x="130" y="264.7" font-size="11" text-anchor="middle" fill="#000" font-weight="normal" font-style="normal" >b</text>
<text transform="translate(10,294.8) rotate(-90)" x="0" y="0" font-size="8.5" fill="#000" textLength="84.0" lengthAdjust="spacingAndGlyphs">Δr <tspan font-style="italic">Prochlorococcus</tspan> %</text>
<polyline points="189.4,181.5 309.1,181.5 309.1,327.9" fill="none" stroke="#8a8a8a" stroke-width="0.9"/>
<line x1="189.4" y1="181.5" x2="189.4" y2="328.4" stroke="#555" stroke-width="1.0"/>
<line x1="188.9" y1="327.9" x2="309.1" y2="327.9" stroke="#4a4a4a" stroke-width="1.1"/>
<line x1="187.4" y1="190.7" x2="189.4" y2="190.7" stroke="#444" stroke-width="0.9"/>
<text x="186.6" y="193.54999999999998" font-size="8" text-anchor="end" fill="#4d4d4d" font-weight="normal" font-style="normal" >50</text>
<line x1="187.4" y1="234.8" x2="189.4" y2="234.8" stroke="#444" stroke-width="0.9"/>
<text x="186.6" y="237.65" font-size="8" text-anchor="end" fill="#4d4d4d" font-weight="normal" font-style="normal" >0</text>
<line x1="187.4" y1="278.9" x2="189.4" y2="278.9" stroke="#444" stroke-width="0.9"/>
<text x="186.6" y="281.75" font-size="8" text-anchor="end" fill="#4d4d4d" font-weight="normal" font-style="normal" >-50</text>
<line x1="187.4" y1="323" x2="189.4" y2="323" stroke="#444" stroke-width="0.9"/>
<text x="186.6" y="325.85" font-size="8" text-anchor="end" fill="#4d4d4d" font-weight="normal" font-style="normal" >-100</text>
<line x1="211.7" y1="327.9" x2="211.7" y2="329.9" stroke="#444" stroke-width="0.9"/>
<text x="211.7" y="336.9" font-size="8" text-anchor="middle" fill="#4d4d4d" font-weight="normal" font-style="normal" >NaOH</text>
<line x1="249.3" y1="327.9" x2="249.3" y2="329.9" stroke="#444" stroke-width="0.9"/>
<text x="249.3" y="336.9" font-size="8" text-anchor="middle" fill="#4d4d4d" font-weight="normal" font-style="normal" >Olivine</text>
<line x1="287" y1="327.9" x2="287" y2="329.9" stroke="#444" stroke-width="0.9"/>
<text x="287" y="336.9" font-size="8" text-anchor="middle" fill="#4d4d4d" font-weight="normal" font-style="normal" >Slag</text>
<line x1="211.5" y1="192.4" x2="211.5" y2="263.1" stroke="#3a80c4" stroke-width="0.8"/>
<rect x="197.6" y="212.3" width="28.599999999999994" height="22.299999999999983" fill="#76b0d5" stroke="#3a80c4" stroke-width="0.6"/>
<line x1="197.6" y1="228.6" x2="226.2" y2="228.6" stroke="#3a80c4" stroke-width="1.2"/>
<circle cx="207.5" cy="192.4" r="2.3" fill="none" stroke="#4a8fcb" stroke-width="0.7"/>
<circle cx="210.5" cy="192.4" r="2.3" fill="none" stroke="#4a8fcb" stroke-width="0.7"/>
<circle cx="213.4" cy="192.4" r="2.3" fill="none" stroke="#4a8fcb" stroke-width="0.7"/>
<circle cx="216.4" cy="192.4" r="2.3" fill="none" stroke="#4a8fcb" stroke-width="0.7"/>
<circle cx="211.6" cy="206.8" r="2.3" fill="none" stroke="#4a8fcb" stroke-width="0.7"/>
<circle cx="209" cy="211.9" r="2.3" fill="none" stroke="#4a8fcb" stroke-width="0.7"/>
<circle cx="214.1" cy="211.9" r="2.3" fill="none" stroke="#4a8fcb" stroke-width="0.7"/>
<circle cx="204.5" cy="227.8" r="2.3" fill="none" stroke="#4a8fcb" stroke-width="0.7"/>
<circle cx="208.3" cy="227.8" r="2.3" fill="none" stroke="#4a8fcb" stroke-width="0.7"/>
<circle cx="212.2" cy="227.8" r="2.3" fill="none" stroke="#4a8fcb" stroke-width="0.7"/>
<circle cx="216" cy="227.8" r="2.3" fill="none" stroke="#4a8fcb" stroke-width="0.7"/>
<circle cx="220" cy="227.8" r="2.3" fill="none" stroke="#4a8fcb" stroke-width="0.7"/>
<circle cx="206.8" cy="233.1" r="2.3" fill="none" stroke="#4a8fcb" stroke-width="0.7"/>
<circle cx="211.2" cy="233.1" r="2.3" fill="none" stroke="#4a8fcb" stroke-width="0.7"/>
<circle cx="215.6" cy="233.1" r="2.3" fill="none" stroke="#4a8fcb" stroke-width="0.7"/>
<circle cx="211.2" cy="242" r="2.3" fill="none" stroke="#4a8fcb" stroke-width="0.7"/>
<circle cx="211.2" cy="250.1" r="2.3" fill="none" stroke="#4a8fcb" stroke-width="0.7"/>
<circle cx="211.2" cy="263.1" r="2.3" fill="none" stroke="#4a8fcb" stroke-width="0.7"/>
<circle cx="211.2" cy="269.3" r="2.3" fill="none" stroke="#4a8fcb" stroke-width="0.7"/>
<text x="211.4" y="223.7" font-size="11" text-anchor="middle" fill="#000" font-weight="normal" font-style="normal" >b</text>
<line x1="249.5" y1="281.8" x2="249.5" y2="318.9" stroke="#3fb07e" stroke-width="0.8"/>
<rect x="235.2" y="296.7" width="29.0" height="8.5" fill="#7fd4b0" stroke="#3fb07e" stroke-width="0.6"/>
<line x1="235.2" y1="303.7" x2="264.2" y2="303.7" stroke="#3fb07e" stroke-width="1.2"/>
<circle cx="249.2" cy="268.8" r="2.3" fill="none" stroke="#4dba8a" stroke-width="0.7"/>
<circle cx="249.2" cy="281.8" r="2.3" fill="none" stroke="#4dba8a" stroke-width="0.7"/>
<circle cx="249.2" cy="284.5" r="2.3" fill="none" stroke="#4dba8a" stroke-width="0.7"/>
<circle cx="249.2" cy="287.3" r="2.3" fill="none" stroke="#4dba8a" stroke-width="0.7"/>
<circle cx="240.5" cy="295.8" r="2.3" fill="none" stroke="#4dba8a" stroke-width="0.7"/>
<circle cx="244.5" cy="295.8" r="2.3" fill="none" stroke="#4dba8a" stroke-width="0.7"/>
<circle cx="248.5" cy="295.8" r="2.3" fill="none" stroke="#4dba8a" stroke-width="0.7"/>
<circle cx="252.5" cy="295.8" r="2.3" fill="none" stroke="#4dba8a" stroke-width="0.7"/>
<circle cx="256.5" cy="295.8" r="2.3" fill="none" stroke="#4dba8a" stroke-width="0.7"/>
<circle cx="243.5" cy="300.9" r="2.3" fill="none" stroke="#4dba8a" stroke-width="0.7"/>
<circle cx="247.3" cy="300.9" r="2.3" fill="none" stroke="#4dba8a" stroke-width="0.7"/>
<circle cx="251.1" cy="300.9" r="2.3" fill="none" stroke="#4dba8a" stroke-width="0.7"/>
<circle cx="254.9" cy="300.9" r="2.3" fill="none" stroke="#4dba8a" stroke-width="0.7"/>
<circle cx="235.8" cy="308.1" r="2.3" fill="none" stroke="#4dba8a" stroke-width="0.7"/>
<circle cx="240.3" cy="308.1" r="2.3" fill="none" stroke="#4dba8a" stroke-width="0.7"/>
<circle cx="244.8" cy="308.1" r="2.3" fill="none" stroke="#4dba8a" stroke-width="0.7"/>
<circle cx="249.3" cy="308.1" r="2.3" fill="none" stroke="#4dba8a" stroke-width="0.7"/>
<circle cx="253.8" cy="308.1" r="2.3" fill="none" stroke="#4dba8a" stroke-width="0.7"/>
<circle cx="258.3" cy="308.1" r="2.3" fill="none" stroke="#4dba8a" stroke-width="0.7"/>
<circle cx="262.6" cy="308.1" r="2.3" fill="none" stroke="#4dba8a" stroke-width="0.7"/>
<circle cx="249.5" cy="318.9" r="2.3" fill="none" stroke="#4dba8a" stroke-width="0.7"/>
<text x="249.3" y="297.6" font-size="11" text-anchor="middle" fill="#000" font-weight="normal" font-style="normal" >a</text>
<line x1="286.5" y1="189.6" x2="286.5" y2="263" stroke="#d99b3a" stroke-width="0.8"/>
<rect x="272.7" y="211.7" width="28.900000000000034" height="36.60000000000002" fill="#ddbb78" stroke="#d99b3a" stroke-width="0.6"/>
<line x1="272.7" y1="231.9" x2="301.6" y2="231.9" stroke="#d99b3a" stroke-width="1.2"/>
<circle cx="286.8" cy="189.6" r="2.3" fill="none" stroke="#e0a444" stroke-width="0.7"/>
<circle cx="284.9" cy="205" r="2.3" fill="none" stroke="#e0a444" stroke-width="0.7"/>
<circle cx="288.6" cy="205" r="2.3" fill="none" stroke="#e0a444" stroke-width="0.7"/>
<circle cx="284.9" cy="209.2" r="2.3" fill="none" stroke="#e0a444" stroke-width="0.7"/>
<circle cx="288.6" cy="209.2" r="2.3" fill="none" stroke="#e0a444" stroke-width="0.7"/>
<circle cx="284.9" cy="215.1" r="2.3" fill="none" stroke="#e0a444" stroke-width="0.7"/>
<circle cx="288.6" cy="215.1" r="2.3" fill="none" stroke="#e0a444" stroke-width="0.7"/>
<circle cx="284.9" cy="231.6" r="2.3" fill="none" stroke="#e0a444" stroke-width="0.7"/>
<circle cx="288.6" cy="231.6" r="2.3" fill="none" stroke="#e0a444" stroke-width="0.7"/>
<circle cx="282" cy="239.7" r="2.3" fill="none" stroke="#e0a444" stroke-width="0.7"/>
<circle cx="286.8" cy="239.7" r="2.3" fill="none" stroke="#e0a444" stroke-width="0.7"/>
<circle cx="291.3" cy="239.7" r="2.3" fill="none" stroke="#e0a444" stroke-width="0.7"/>
<circle cx="286.8" cy="246.4" r="2.3" fill="none" stroke="#e0a444" stroke-width="0.7"/>
<circle cx="284.9" cy="252.3" r="2.3" fill="none" stroke="#e0a444" stroke-width="0.7"/>
<circle cx="288.6" cy="252.3" r="2.3" fill="none" stroke="#e0a444" stroke-width="0.7"/>
<circle cx="284.9" cy="263" r="2.3" fill="none" stroke="#e0a444" stroke-width="0.7"/>
<circle cx="288.6" cy="263" r="2.3" fill="none" stroke="#e0a444" stroke-width="0.7"/>
<circle cx="286.8" cy="269" r="2.3" fill="none" stroke="#e0a444" stroke-width="0.7"/>
<text x="286.8" y="228.7" font-size="11" text-anchor="middle" fill="#000" font-weight="normal" font-style="normal" >b</text>
<text transform="translate(167,294.3) rotate(-90)" x="0" y="0" font-size="8.5" fill="#000" textLength="80.10000000000002" lengthAdjust="spacingAndGlyphs">Δr <tspan font-style="italic">Synechococcus</tspan> %</text>
<polyline points="342.4,181.5 466.5,181.5 466.5,328.0" fill="none" stroke="#8a8a8a" stroke-width="0.9"/>
<line x1="342.4" y1="181.5" x2="342.4" y2="328.5" stroke="#555" stroke-width="1.0"/>
<line x1="341.9" y1="328.0" x2="466.5" y2="328.0" stroke="#4a4a4a" stroke-width="1.1"/>
<line x1="340.4" y1="186.8" x2="342.4" y2="186.8" stroke="#444" stroke-width="0.9"/>
<text x="339.59999999999997" y="189.65" font-size="8" text-anchor="end" fill="#4d4d4d" font-weight="normal" font-style="normal" >50</text>
<line x1="340.4" y1="237.3" x2="342.4" y2="237.3" stroke="#444" stroke-width="0.9"/>
<text x="339.59999999999997" y="240.15" font-size="8" text-anchor="end" fill="#4d4d4d" font-weight="normal" font-style="normal" >0</text>
<line x1="340.4" y1="287.8" x2="342.4" y2="287.8" stroke="#444" stroke-width="0.9"/>
<text x="339.59999999999997" y="290.65000000000003" font-size="8" text-anchor="end" fill="#4d4d4d" font-weight="normal" font-style="normal" >-50</text>
<line x1="365.3" y1="328.0" x2="365.3" y2="330.0" stroke="#444" stroke-width="0.9"/>
<text x="365.3" y="337.0" font-size="8" text-anchor="middle" fill="#4d4d4d" font-weight="normal" font-style="normal" >NaOH</text>
<line x1="404.3" y1="328.0" x2="404.3" y2="330.0" stroke="#444" stroke-width="0.9"/>
<text x="404.3" y="337.0" font-size="8" text-anchor="middle" fill="#4d4d4d" font-weight="normal" font-style="normal" >Olivine</text>
<line x1="443.1" y1="328.0" x2="443.1" y2="330.0" stroke="#444" stroke-width="0.9"/>
<text x="443.1" y="337.0" font-size="8" text-anchor="middle" fill="#4d4d4d" font-weight="normal" font-style="normal" >Slag</text>
<line x1="365.5" y1="226.5" x2="365.5" y2="246.5" stroke="#3a80c4" stroke-width="0.8"/>
<rect x="350.5" y="230.4" width="29.5" height="11.199999999999989" fill="#76b0d5" stroke="#3a80c4" stroke-width="0.6"/>
<line x1="350.5" y1="233" x2="380" y2="233" stroke="#3a80c4" stroke-width="1.2"/>
<circle cx="365.2" cy="189.7" r="2.3" fill="none" stroke="#4a8fcb" stroke-width="0.7"/>
<circle cx="365.2" cy="211.6" r="2.3" fill="none" stroke="#4a8fcb" stroke-width="0.7"/>
<circle cx="365.5" cy="263.9" r="2.3" fill="none" stroke="#4a8fcb" stroke-width="0.7"/>
<circle cx="363.2" cy="226.5" r="2.3" fill="none" stroke="#4a8fcb" stroke-width="0.7"/>
<circle cx="367.3" cy="226.5" r="2.3" fill="none" stroke="#4a8fcb" stroke-width="0.7"/>
<circle cx="352.5" cy="231.7" r="2.3" fill="none" stroke="#4a8fcb" stroke-width="0.7"/>
<circle cx="356.8" cy="231.7" r="2.3" fill="none" stroke="#4a8fcb" stroke-width="0.7"/>
<circle cx="361.1" cy="231.7" r="2.3" fill="none" stroke="#4a8fcb" stroke-width="0.7"/>
<circle cx="365.4" cy="231.7" r="2.3" fill="none" stroke="#4a8fcb" stroke-width="0.7"/>
<circle cx="369.7" cy="231.7" r="2.3" fill="none" stroke="#4a8fcb" stroke-width="0.7"/>
<circle cx="374" cy="231.7" r="2.3" fill="none" stroke="#4a8fcb" stroke-width="0.7"/>
<circle cx="378.3" cy="231.7" r="2.3" fill="none" stroke="#4a8fcb" stroke-width="0.7"/>
<circle cx="357.8" cy="236.2" r="2.3" fill="none" stroke="#4a8fcb" stroke-width="0.7"/>
<circle cx="362.8" cy="236.2" r="2.3" fill="none" stroke="#4a8fcb" stroke-width="0.7"/>
<circle cx="367.8" cy="236.2" r="2.3" fill="none" stroke="#4a8fcb" stroke-width="0.7"/>
<circle cx="372.9" cy="236.2" r="2.3" fill="none" stroke="#4a8fcb" stroke-width="0.7"/>
<circle cx="358.4" cy="246.5" r="2.3" fill="none" stroke="#4a8fcb" stroke-width="0.7"/>
<circle cx="362.6" cy="246.5" r="2.3" fill="none" stroke="#4a8fcb" stroke-width="0.7"/>
<circle cx="366.7" cy="246.5" r="2.3" fill="none" stroke="#4a8fcb" stroke-width="0.7"/>
<circle cx="370.8" cy="246.5" r="2.3" fill="none" stroke="#4a8fcb" stroke-width="0.7"/>
<text x="365.3" y="231.5" font-size="11" text-anchor="middle" fill="#000" font-weight="normal" font-style="normal" >c</text>
<line x1="404.5" y1="301.5" x2="404.5" y2="319" stroke="#3fb07e" stroke-width="0.8"/>
<rect x="389" y="309" width="30" height="8.699999999999989" fill="#7fd4b0" stroke="#3fb07e" stroke-width="0.6"/>
<line x1="389" y1="314.5" x2="419" y2="314.5" stroke="#3fb07e" stroke-width="1.2"/>
<circle cx="404.3" cy="276.6" r="2.3" fill="none" stroke="#4dba8a" stroke-width="0.7"/>
<circle cx="399.2" cy="301.5" r="2.3" fill="none" stroke="#4dba8a" stroke-width="0.7"/>
<circle cx="404.3" cy="301.5" r="2.3" fill="none" stroke="#4dba8a" stroke-width="0.7"/>
<circle cx="408.8" cy="301.5" r="2.3" fill="none" stroke="#4dba8a" stroke-width="0.7"/>
<circle cx="391.5" cy="311.6" r="2.3" fill="none" stroke="#4dba8a" stroke-width="0.7"/>
<circle cx="395.5" cy="311.6" r="2.3" fill="none" stroke="#4dba8a" stroke-width="0.7"/>
<circle cx="399.5" cy="311.6" r="2.3" fill="none" stroke="#4dba8a" stroke-width="0.7"/>
<circle cx="403.5" cy="311.6" r="2.3" fill="none" stroke="#4dba8a" stroke-width="0.7"/>
<circle cx="407.5" cy="311.6" r="2.3" fill="none" stroke="#4dba8a" stroke-width="0.7"/>
<circle cx="411.5" cy="311.6" r="2.3" fill="none" stroke="#4dba8a" stroke-width="0.7"/>
<circle cx="415.5" cy="311.6" r="2.3" fill="none" stroke="#4dba8a" stroke-width="0.7"/>
<circle cx="391.5" cy="314.5" r="2.3" fill="none" stroke="#4dba8a" stroke-width="0.7"/>
<circle cx="395.5" cy="314.5" r="2.3" fill="none" stroke="#4dba8a" stroke-width="0.7"/>
<circle cx="399.5" cy="314.5" r="2.3" fill="none" stroke="#4dba8a" stroke-width="0.7"/>
<circle cx="403.5" cy="314.5" r="2.3" fill="none" stroke="#4dba8a" stroke-width="0.7"/>
<circle cx="407.5" cy="314.5" r="2.3" fill="none" stroke="#4dba8a" stroke-width="0.7"/>
<circle cx="411.5" cy="314.5" r="2.3" fill="none" stroke="#4dba8a" stroke-width="0.7"/>
<circle cx="415.5" cy="314.5" r="2.3" fill="none" stroke="#4dba8a" stroke-width="0.7"/>
<circle cx="390.4" cy="319" r="2.3" fill="none" stroke="#4dba8a" stroke-width="0.7"/>
<circle cx="395" cy="319" r="2.3" fill="none" stroke="#4dba8a" stroke-width="0.7"/>
<circle cx="399.5" cy="319" r="2.3" fill="none" stroke="#4dba8a" stroke-width="0.7"/>
<circle cx="404" cy="319" r="2.3" fill="none" stroke="#4dba8a" stroke-width="0.7"/>
<circle cx="408.6" cy="319" r="2.3" fill="none" stroke="#4dba8a" stroke-width="0.7"/>
<circle cx="413.1" cy="319" r="2.3" fill="none" stroke="#4dba8a" stroke-width="0.7"/>
<circle cx="417.7" cy="319" r="2.3" fill="none" stroke="#4dba8a" stroke-width="0.7"/>
<text x="404.3" y="308.8" font-size="11" text-anchor="middle" fill="#000" font-weight="normal" font-style="normal" >a</text>
<line x1="443.5" y1="234.8" x2="443.5" y2="303" stroke="#d99b3a" stroke-width="0.8"/>
<rect x="428.3" y="251.4" width="29.5" height="26.799999999999983" fill="#ddbb78" stroke="#d99b3a" stroke-width="0.6"/>
<line x1="428.3" y1="261.1" x2="457.8" y2="261.1" stroke="#d99b3a" stroke-width="1.2"/>
<circle cx="443.1" cy="206.2" r="2.3" fill="none" stroke="#e0a444" stroke-width="0.7"/>
<circle cx="443.1" cy="234.8" r="2.3" fill="none" stroke="#e0a444" stroke-width="0.7"/>
<circle cx="440.7" cy="241.6" r="2.3" fill="none" stroke="#e0a444" stroke-width="0.7"/>
<circle cx="445.2" cy="241.6" r="2.3" fill="none" stroke="#e0a444" stroke-width="0.7"/>
<circle cx="438.7" cy="251.4" r="2.3" fill="none" stroke="#e0a444" stroke-width="0.7"/>
<circle cx="443.1" cy="251.4" r="2.3" fill="none" stroke="#e0a444" stroke-width="0.7"/>
<circle cx="447.6" cy="251.4" r="2.3" fill="none" stroke="#e0a444" stroke-width="0.7"/>
<circle cx="438.7" cy="259" r="2.3" fill="none" stroke="#e0a444" stroke-width="0.7"/>
<circle cx="447.6" cy="259" r="2.3" fill="none" stroke="#e0a444" stroke-width="0.7"/>
<circle cx="438.3" cy="265.8" r="2.3" fill="none" stroke="#e0a444" stroke-width="0.7"/>
<circle cx="442.7" cy="265.8" r="2.3" fill="none" stroke="#e0a444" stroke-width="0.7"/>
<circle cx="447.1" cy="265.8" r="2.3" fill="none" stroke="#e0a444" stroke-width="0.7"/>
<circle cx="438.3" cy="278.2" r="2.3" fill="none" stroke="#e0a444" stroke-width="0.7"/>
<circle cx="442.7" cy="278.2" r="2.3" fill="none" stroke="#e0a444" stroke-width="0.7"/>
<circle cx="447.1" cy="278.2" r="2.3" fill="none" stroke="#e0a444" stroke-width="0.7"/>
<circle cx="440.7" cy="284.4" r="2.3" fill="none" stroke="#e0a444" stroke-width="0.7"/>
<circle cx="445.2" cy="284.4" r="2.3" fill="none" stroke="#e0a444" stroke-width="0.7"/>
<circle cx="443.1" cy="303" r="2.3" fill="none" stroke="#e0a444" stroke-width="0.7"/>
<text x="443.1" y="259" font-size="11" text-anchor="middle" fill="#000" font-weight="normal" font-style="normal" >b</text>
<text transform="translate(321.5,307) rotate(-90)" x="0" y="0" font-size="8.5" fill="#000" textLength="104.6" lengthAdjust="spacingAndGlyphs">Δr Heterotrophic bacteria %</text>
<rect x="495.6" y="43.5" width="187.89999999999998" height="222.0" fill="none" stroke="#505050" stroke-width="1.0"/>
<line x1="493.6" y1="98.6" x2="495.6" y2="98.6" stroke="#333" stroke-width="0.9"/>
<text x="493.0" y="101.55" font-size="8.2" text-anchor="end" fill="#333" font-weight="normal" font-style="normal" >2</text>
<line x1="493.6" y1="155.7" x2="495.6" y2="155.7" stroke="#333" stroke-width="0.9"/>
<text x="493.0" y="158.64999999999998" font-size="8.2" text-anchor="end" fill="#333" font-weight="normal" font-style="normal" >0</text>
<line x1="493.6" y1="212.8" x2="495.6" y2="212.8" stroke="#333" stroke-width="0.9"/>
<text x="493.0" y="215.75" font-size="8.2" text-anchor="end" fill="#333" font-weight="normal" font-style="normal" >-2</text>
<line x1="535" y1="265.5" x2="535" y2="267.5" stroke="#333" stroke-width="0.9"/>
<text x="535" y="275.3" font-size="8.1" text-anchor="middle" fill="#333" font-weight="normal" font-style="normal" >-2</text>
<line x1="589" y1="265.5" x2="589" y2="267.5" stroke="#333" stroke-width="0.9"/>
<text x="589" y="275.3" font-size="8.1" text-anchor="middle" fill="#333" font-weight="normal" font-style="normal" >0</text>
<line x1="643" y1="265.5" x2="643" y2="267.5" stroke="#333" stroke-width="0.9"/>
<text x="643" y="275.3" font-size="8.1" text-anchor="middle" fill="#333" font-weight="normal" font-style="normal" >2</text>
<text x="590" y="284.6" font-size="8.2" text-anchor="middle" fill="#222" font-weight="normal" font-style="normal" >Dim.1 (34.6%)</text>
<text transform="translate(482.6,176.4) rotate(-90)" font-size="8.5" fill="#222">Dim.2 (31%)</text>
<circle cx="552.2" cy="69.5" r="3" fill="#ababab"/>
<circle cx="568.3" cy="89.1" r="3" fill="#ababab"/>
<circle cx="576" cy="83.7" r="3" fill="#ababab"/>
<circle cx="602" cy="52.8" r="3" fill="#ababab"/>
<circle cx="601.3" cy="123.9" r="3" fill="#ababab"/>
<circle cx="572.1" cy="144.2" r="3" fill="#ababab"/>
<circle cx="591" cy="143.1" r="3" fill="#ababab"/>
<circle cx="602.7" cy="138.7" r="3" fill="#ababab"/>
<circle cx="606.4" cy="140.5" r="3" fill="#ababab"/>
<circle cx="537.5" cy="158.2" r="3" fill="#ababab"/>
<circle cx="560" cy="155.5" r="3" fill="#ababab"/>
<circle cx="560" cy="163.1" r="3" fill="#ababab"/>
<circle cx="581" cy="163" r="3" fill="#ababab"/>
<circle cx="592.2" cy="180.4" r="3" fill="#ababab"/>
<circle cx="648" cy="122.8" r="3" fill="#ababab"/>
<path d="M565.00,89.30 L568.85,96.00 L561.15,96.00 Z" fill="#4390c7"/>
<path d="M608.70,65.90 L612.55,72.60 L604.85,72.60 Z" fill="#4390c7"/>
<path d="M532.00,112.60 L535.85,119.30 L528.15,119.30 Z" fill="#4390c7"/>
<path d="M543.70,123.80 L547.55,130.50 L539.85,130.50 Z" fill="#4390c7"/>
<path d="M555.30,121.30 L559.15,128.00 L551.45,128.00 Z" fill="#4390c7"/>
<path d="M569.90,124.80 L573.75,131.50 L566.05,131.50 Z" fill="#4390c7"/>
<path d="M575.20,132.50 L579.05,139.20 L571.35,139.20 Z" fill="#4390c7"/>
<path d="M577.70,139.60 L581.55,146.30 L573.85,146.30 Z" fill="#4390c7"/>
<path d="M583.20,138.50 L587.05,145.20 L579.35,145.20 Z" fill="#4390c7"/>
<path d="M614.20,116.90 L618.05,123.60 L610.35,123.60 Z" fill="#4390c7"/>
<path d="M613.50,129.70 L617.35,136.40 L609.65,136.40 Z" fill="#4390c7"/>
<path d="M597.60,143.60 L601.45,150.30 L593.75,150.30 Z" fill="#4390c7"/>
<path d="M587.20,148.50 L591.05,155.20 L583.35,155.20 Z" fill="#4390c7"/>
<path d="M548.10,139.70 L551.95,146.40 L544.25,146.40 Z" fill="#4390c7"/>
<path d="M538.60,157.40 L542.45,164.10 L534.75,164.10 Z" fill="#4390c7"/>
<path d="M649.80,120.40 L653.65,127.10 L645.95,127.10 Z" fill="#4390c7"/>
<path d="M526.40,208.50 L530.25,215.20 L522.55,215.20 Z" fill="#4390c7"/>
<path d="M571.00,186.40 L574.85,193.10 L567.15,193.10 Z" fill="#4390c7"/>
<path d="M610.40,103.50 L613.50,106.60 L610.40,109.70 L607.30,106.60 Z" fill="#48bb8b"/>
<path d="M675.70,153.70 L678.80,156.80 L675.70,159.90 L672.60,156.80 Z" fill="#48bb8b"/>
<path d="M647.20,164.90 L650.30,168.00 L647.20,171.10 L644.10,168.00 Z" fill="#48bb8b"/>
<path d="M653.60,173.90 L656.70,177.00 L653.60,180.10 L650.50,177.00 Z" fill="#48bb8b"/>
<path d="M636.50,174.60 L639.60,177.70 L636.50,180.80 L633.40,177.70 Z" fill="#48bb8b"/>
<path d="M634.80,177.50 L637.90,180.60 L634.80,183.70 L631.70,180.60 Z" fill="#48bb8b"/>
<path d="M647.20,183.40 L650.30,186.50 L647.20,189.60 L644.10,186.50 Z" fill="#48bb8b"/>
<path d="M636.50,185.70 L639.60,188.80 L636.50,191.90 L633.40,188.80 Z" fill="#48bb8b"/>
<path d="M639.90,185.20 L643.00,188.30 L639.90,191.40 L636.80,188.30 Z" fill="#48bb8b"/>
<path d="M642.00,188.90 L645.10,192.00 L642.00,195.10 L638.90,192.00 Z" fill="#48bb8b"/>
<path d="M644.30,187.90 L647.40,191.00 L644.30,194.10 L641.20,191.00 Z" fill="#48bb8b"/>
<path d="M637.70,187.40 L640.80,190.50 L637.70,193.60 L634.60,190.50 Z" fill="#48bb8b"/>
<path d="M622.60,194.50 L625.70,197.60 L622.60,200.70 L619.50,197.60 Z" fill="#48bb8b"/>
<path d="M622.20,200.50 L625.30,203.60 L622.20,206.70 L619.10,203.60 Z" fill="#48bb8b"/>
<path d="M612.40,202.30 L615.50,205.40 L612.40,208.50 L609.30,205.40 Z" fill="#48bb8b"/>
<path d="M605.40,197.20 L608.50,200.30 L605.40,203.40 L602.30,200.30 Z" fill="#48bb8b"/>
<path d="M602.60,202.70 L605.70,205.80 L602.60,208.90 L599.50,205.80 Z" fill="#48bb8b"/>
<rect x="599.50" y="65.10" width="6.0" height="6.0" fill="#d9a548"/>
<rect x="569.30" y="97.90" width="6.0" height="6.0" fill="#d9a548"/>
<rect x="559.20" y="119.40" width="6.0" height="6.0" fill="#d9a548"/>
<rect x="559.20" y="129.70" width="6.0" height="6.0" fill="#d9a548"/>
<rect x="575.80" y="163.80" width="6.0" height="6.0" fill="#d9a548"/>
<rect x="580.00" y="167.50" width="6.0" height="6.0" fill="#d9a548"/>
<rect x="594.00" y="172.90" width="6.0" height="6.0" fill="#d9a548"/>
<rect x="595.80" y="179.60" width="6.0" height="6.0" fill="#d9a548"/>
<rect x="571.00" y="180.80" width="6.0" height="6.0" fill="#d9a548"/>
<rect x="570.00" y="184.30" width="6.0" height="6.0" fill="#d9a548"/>
<rect x="578.10" y="203.90" width="6.0" height="6.0" fill="#d9a548"/>
<rect x="651.20" y="127.50" width="6.0" height="6.0" fill="#d9a548"/>
<rect x="530.70" y="184.70" width="6.0" height="6.0" fill="#d9a548"/>
<rect x="547.80" y="195.10" width="6.0" height="6.0" fill="#d9a548"/>
<rect x="509.00" y="200.20" width="6.0" height="6.0" fill="#d9a548"/>
<rect x="509.00" y="206.80" width="6.0" height="6.0" fill="#d9a548"/>
<rect x="500.80" y="208.60" width="6.0" height="6.0" fill="#d9a548"/>
<rect x="525.20" y="226.30" width="6.0" height="6.0" fill="#d9a548"/>
<line x1="589" y1="155.7" x2="575.1" y2="55.9" stroke="#111" stroke-width="0.7"/>
<polyline points="577.56,59.30 575.1,55.9 573.66,59.84" fill="none" stroke="#111" stroke-width="0.7"/>
<line x1="589" y1="155.7" x2="574.3" y2="58.7" stroke="#111" stroke-width="0.7"/>
<polyline points="576.81,62.07 574.3,58.7 572.91,62.66" fill="none" stroke="#111" stroke-width="0.7"/>
<line x1="589" y1="155.7" x2="559.4" y2="94.2" stroke="#111" stroke-width="0.7"/>
<polyline points="562.78,96.69 559.4,94.2 559.23,98.40" fill="none" stroke="#111" stroke-width="0.7"/>
<line x1="589" y1="155.7" x2="542.6" y2="136.5" stroke="#111" stroke-width="0.7"/>
<polyline points="546.78,136.10 542.6,136.5 545.27,139.74" fill="none" stroke="#111" stroke-width="0.7"/>
<line x1="589" y1="155.7" x2="546.3" y2="222.9" stroke="#111" stroke-width="0.7"/>
<polyline points="546.62,218.71 546.3,222.9 549.95,220.83" fill="none" stroke="#111" stroke-width="0.7"/>
<line x1="589" y1="155.7" x2="561.6" y2="255.8" stroke="#111" stroke-width="0.7"/>
<polyline points="560.68,251.70 561.6,255.8 564.48,252.74" fill="none" stroke="#111" stroke-width="0.7"/>
<text x="514" y="77.2" font-size="8.6" text-anchor="start" fill="#000" font-weight="normal" font-style="italic" >Synechococcus</text>
<text x="586.1" y="91.3" font-size="8.6" text-anchor="start" fill="#000" font-weight="normal" font-style="normal" >Heterotrophic</text>
<text x="586.1" y="101.6" font-size="8.6" text-anchor="start" fill="#000" font-weight="normal" font-style="normal" >bacteria</text>
<text x="501.5" y="111.6" font-size="8.6" text-anchor="start" fill="#000" font-weight="normal" font-style="italic" >Prochlorococcus</text>
<text x="505" y="153.2" font-size="8.6" text-anchor="start" fill="#000" font-weight="normal" font-style="normal" >Picoeukaryotes</text>
<text x="508.3" y="178.8" font-size="8.6" text-anchor="start" fill="#000" font-weight="normal" font-style="normal" >Microeukaryotes</text>
<text x="577.6" y="232.6" font-size="8.6" text-anchor="start" fill="#000" font-weight="normal" font-style="normal" >Nanoeukaryotes</text>
<text x="477.7" y="305.3" font-size="8.4" text-anchor="start" fill="#111" font-weight="normal" font-style="normal" >Treatment</text>
<circle cx="527.5" cy="302.2" r="3.4" fill="#ababab"/>
<text x="536.6" y="305.3" font-size="8.4" text-anchor="start" fill="#111" font-weight="normal" font-style="normal" >Control</text>
<path d="M572.5,297.6 L576.5,304.6 L568.5,304.6 Z" fill="#4390c7"/>
<text x="581.8" y="305.3" font-size="8.4" text-anchor="start" fill="#111" font-weight="normal" font-style="normal" >NaOH</text>
<path d="M613.60,299.30 L616.60,302.30 L613.60,305.30 L610.60,302.30 Z" fill="#48bb8b"/>
<text x="622.5" y="305.3" font-size="8.4" text-anchor="start" fill="#111" font-weight="normal" font-style="normal" >Olivine</text>
<rect x="653.80" y="299.10" width="6.4" height="6.4" fill="#d9a548"/>
<text x="666" y="305.3" font-size="8.4" text-anchor="start" fill="#111" font-weight="normal" font-style="normal" >Slag</text>
</svg>
</body></html>
